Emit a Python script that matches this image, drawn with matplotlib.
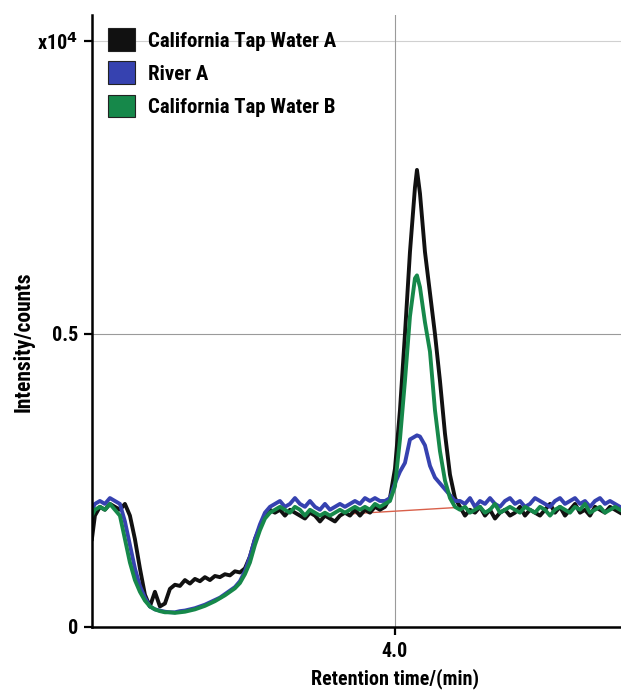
import matplotlib
matplotlib.use("Agg")
import matplotlib.pyplot as plt
from matplotlib.patches import Patch

plt.rcParams['font.family'] = ['Roboto Condensed', 'Liberation Sans', 'DejaVu Sans']
plt.rcParams['font.weight'] = 'bold'
plt.rcParams['axes.labelweight'] = 'bold'

# retention time (min)
times = [0.97, 1.00, 1.05, 1.10, 1.15, 1.20,
         1.25, 1.30, 1.35, 1.40, 1.45, 1.50, 1.55, 1.60, 1.65, 1.70,
         1.75, 1.80, 1.85, 1.90, 1.95, 2.00, 2.05, 2.10, 2.15, 2.20,
         2.25, 2.30, 2.35, 2.40, 2.45, 2.50, 2.55, 2.60, 2.65, 2.70, 2.75,
         2.80, 2.85, 2.90, 2.95, 3.00, 3.05, 3.10, 3.15, 3.20, 3.25,
         3.30, 3.35, 3.40, 3.45, 3.50, 3.55, 3.60, 3.65, 3.70, 3.75, 3.80, 3.85,
         3.90, 3.95, 4.00, 4.05, 4.10, 4.15, 4.20, 4.22, 4.25, 4.30,
         4.35, 4.40, 4.45, 4.50, 4.55, 4.60,
         4.65, 4.70, 4.75, 4.80, 4.85, 4.90, 4.95, 5.00, 5.05, 5.10,
         5.15, 5.20, 5.25, 5.30, 5.35, 5.40, 5.45, 5.50, 5.55, 5.60,
         5.65, 5.70, 5.75, 5.80, 5.85, 5.90, 5.95, 6.00, 6.05, 6.10,
         6.15, 6.20, 6.25]

# intensity (x10^4 counts)
tap_a = [0.15, 0.19, 0.205, 0.20, 0.21, 0.205,
         0.20, 0.21, 0.19, 0.15, 0.10, 0.055, 0.035, 0.06, 0.035, 0.04,
         0.065, 0.072, 0.07, 0.08, 0.074, 0.082, 0.078, 0.085, 0.08, 0.087,
         0.085, 0.09, 0.088, 0.095, 0.093, 0.10, 0.12, 0.15, 0.17, 0.19, 0.20,
         0.195, 0.20, 0.19, 0.20, 0.195, 0.19, 0.185, 0.195, 0.19, 0.18,
         0.19, 0.185, 0.18, 0.19, 0.195, 0.19, 0.20, 0.19, 0.20, 0.195, 0.205, 0.20,
         0.205, 0.22, 0.27, 0.37, 0.50, 0.64, 0.75, 0.78, 0.74, 0.64,
         0.57, 0.50, 0.42, 0.33, 0.26, 0.22,
         0.205, 0.19, 0.20, 0.195, 0.205, 0.19, 0.20, 0.185, 0.195, 0.20,
         0.19, 0.195, 0.205, 0.19, 0.20, 0.195, 0.19, 0.20, 0.21, 0.195,
         0.205, 0.19, 0.20, 0.21, 0.195, 0.20, 0.19, 0.205, 0.20, 0.195,
         0.205, 0.20, 0.195]

river_a = [0.20, 0.21, 0.215, 0.21, 0.22, 0.215,
           0.21, 0.18, 0.14, 0.10, 0.07, 0.05, 0.035, 0.03, 0.028, 0.026,
           0.025, 0.025, 0.027, 0.028, 0.03, 0.032, 0.035, 0.038, 0.042, 0.046,
           0.05, 0.056, 0.062, 0.068, 0.078, 0.095, 0.12, 0.15, 0.175, 0.195, 0.205,
           0.21, 0.215, 0.205, 0.21, 0.22, 0.21, 0.205, 0.215, 0.205, 0.20,
           0.21, 0.20, 0.205, 0.21, 0.205, 0.21, 0.215, 0.21, 0.22, 0.215, 0.22, 0.215,
           0.215, 0.22, 0.245, 0.265, 0.28, 0.32, 0.325, 0.327, 0.325, 0.31,
           0.275, 0.255, 0.245, 0.235, 0.225, 0.215,
           0.215, 0.21, 0.22, 0.205, 0.215, 0.21, 0.22, 0.21, 0.205, 0.215,
           0.22, 0.21, 0.215, 0.205, 0.21, 0.22, 0.215, 0.21, 0.205, 0.215,
           0.22, 0.21, 0.215, 0.22, 0.21, 0.215, 0.205, 0.215, 0.22, 0.21,
           0.215, 0.21, 0.205]

tap_b = [0.19, 0.20, 0.205, 0.20, 0.21, 0.20,
         0.19, 0.15, 0.11, 0.08, 0.06, 0.045, 0.035, 0.03, 0.027, 0.025,
         0.025, 0.024, 0.025, 0.026, 0.028, 0.03, 0.033, 0.036, 0.04, 0.044,
         0.049, 0.054, 0.06, 0.066, 0.075, 0.09, 0.11, 0.14, 0.165, 0.185, 0.195,
         0.20, 0.205, 0.20, 0.195, 0.205, 0.20, 0.19, 0.20, 0.195, 0.19,
         0.195, 0.19, 0.195, 0.20, 0.195, 0.20, 0.205, 0.20, 0.205, 0.20, 0.21, 0.205,
         0.21, 0.215, 0.24, 0.32, 0.42, 0.53, 0.595, 0.60, 0.58, 0.52,
         0.47, 0.37, 0.30, 0.25, 0.22, 0.205,
         0.20, 0.205, 0.195, 0.20, 0.205, 0.195, 0.20, 0.21, 0.195, 0.20,
         0.205, 0.20, 0.195, 0.205, 0.20, 0.195, 0.205, 0.20, 0.19, 0.20,
         0.205, 0.20, 0.195, 0.205, 0.20, 0.21, 0.195, 0.20, 0.205, 0.195,
         0.20, 0.205, 0.20]

baseline_t = [3.55, 4.63]
baseline_y = [0.193, 0.204]

series_names = ['California Tap Water A', 'River A', 'California Tap Water B']
series_colors = ['#111111', '#3642b0', '#16884a']

fig = plt.figure(figsize=(6.21, 6.92), dpi=100)
ax = fig.add_axes([0.148, 0.094, 0.852, 0.884])

ax.axhline(0.5, color='#9a9a9a', lw=0.8, zorder=0)
ax.axhline(1.0, color='#d0d0d0', lw=0.8, zorder=0)
ax.axvline(4.0, color='#9a9a9a', lw=0.8, zorder=0)

ax.plot(baseline_t, baseline_y, color='#d9604a', lw=1.0, zorder=1)
for ys, c in zip([tap_a, river_a, tap_b], series_colors):
    ax.plot(times, ys, color=c, lw=2.8, solid_joinstyle='round', zorder=2)

ax.set_xlim(0.97, 6.26)
ax.set_ylim(0, 1.044)
ax.set_xticks([4.0])
ax.set_xticklabels(['4.0'])
ax.set_yticks([0, 0.5, 1.0])
ax.set_yticklabels(['0', '0.5', 'x10$^4$'])
for s in ['top', 'right']:
    ax.spines[s].set_visible(False)
for s in ['left', 'bottom']:
    ax.spines[s].set_linewidth(1.8)
ax.tick_params(axis='y', length=6, width=1.6, labelsize=14.5, pad=4)
ax.tick_params(axis='x', length=6, width=1.6, labelsize=14.5, pad=5)

ax.set_xlabel('Retention time/(min)', fontsize=14.5)
ax.xaxis.set_label_coords(0.573, -0.068)
ax.set_ylabel('Intensity/counts', fontsize=15.5)
ax.yaxis.set_label_coords(-0.108, 0.467)

handles = [Patch(facecolor=c, edgecolor='#222222', lw=0.8) for c in series_colors]
ax.legend(handles, series_names, loc='upper left', bbox_to_anchor=(0.006, 1.0),
          frameon=False, fontsize=15, handlelength=1.3, handleheight=1.3,
          handletextpad=0.62, labelspacing=0.5, borderaxespad=0.23)

fig.savefig('out.png', dpi=100)
